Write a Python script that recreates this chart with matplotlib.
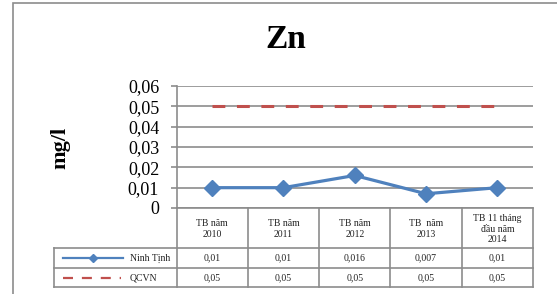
import matplotlib
matplotlib.use("Agg")
import matplotlib.pyplot as plt
from matplotlib.lines import Line2D
from matplotlib.patches import Rectangle

categories = ["TB năm\n2010", "TB năm\n2011", "TB năm\n2012", "TB  năm\n2013", "TB 11 tháng\nđầu năm\n2014"]
ninh_tinh = [0.01, 0.01, 0.016, 0.007, 0.01]
qcvn = [0.05, 0.05, 0.05, 0.05, 0.05]
ninh_tinh_labels = ["0,01", "0,01", "0,016", "0,007", "0,01"]
qcvn_labels = ["0,05", "0,05", "0,05", "0,05", "0,05"]
yticks = [0, 0.01, 0.02, 0.03, 0.04, 0.05, 0.06]
ytick_labels = ["0", "0,01", "0,02", "0,03", "0,04", "0,05", "0,06"]

plt.rcParams['font.family'] = ['Liberation Serif', 'DejaVu Serif']

W, H = 557, 294
fig = plt.figure(figsize=(W / 100, H / 100), dpi=100)

def fx(px):
    return px / W

def fy(py):
    return 1 - py / H

# outer chart border
fig.patches.append(Rectangle((fx(13.5), fy(400)), fx(700), fy(2.5) - fy(400),
                             transform=fig.transFigure, fill=False,
                             edgecolor="#8c8c8c", linewidth=1.2))

L, R, T, B = 176.5, 533, 86, 208
ax = fig.add_axes([fx(L), fy(B), fx(R - L), fy(T) - fy(B)])
n = len(categories)
x = list(range(n))
ax.set_xlim(-0.5, n - 0.5)
ax.set_ylim(0, 0.06)
ax.set_yticks(yticks)
ax.set_yticklabels(ytick_labels, fontsize=13)
ax.set_xticks([])
ax.grid(axis="y", color="#8c8c8c", linewidth=1.2)
ax.set_axisbelow(True)
for s in ["top", "right", "bottom"]:
    ax.spines[s].set_visible(False)
ax.spines["left"].set_color("#8c8c8c")
ax.spines["left"].set_linewidth(1.2)
ax.tick_params(axis="y", length=4.5, color="#8c8c8c", width=1.2, pad=8)

blue = "#4F81BD"
red = "#C0504D"
ax.plot(x, qcvn, color=red, linewidth=2.2, dashes=(4.2, 3.8), zorder=3)
ax.plot(x, ninh_tinh, color=blue, linewidth=2.3, marker="D", markersize=8.5,
        markeredgecolor=blue, zorder=4, clip_on=False)

fig.text(fx(286), fy(39), "Zn", fontsize=24, fontweight="bold", ha="center", va="center")
fig.text(fx(60), fy(148), "mg/l", fontsize=16, fontweight="bold", ha="center", va="center",
         rotation=90)

# data table
gc = "#8c8c8c"
lw = 1.2
TL = 54
r1, r2, r3 = 248, 268, 287
colw = (R - L) / n

def hline(px0, px1, py):
    fig.add_artist(Line2D([fx(px0), fx(px1)], [fy(py), fy(py)], transform=fig.transFigure,
                          color=gc, linewidth=lw))

def vline(px, py0, py1):
    fig.add_artist(Line2D([fx(px), fx(px)], [fy(py0), fy(py1)], transform=fig.transFigure,
                          color=gc, linewidth=lw))

hline(L, R, B)
hline(TL, R, r1)
hline(TL, R, r2)
hline(TL, R, r3)
vline(L, B, r3)
vline(TL, r1, r3)
for i in range(1, n + 1):
    vline(L + i * colw, B, r3)

for i, cat in enumerate(categories):
    cx = L + (i + 0.5) * colw
    fig.text(fx(cx), fy((B + r1) / 2 + 1), cat, fontsize=7, ha="center", va="center",
             linespacing=1.25, color="#222222")
    fig.text(fx(cx), fy((r1 + r2) / 2), ninh_tinh_labels[i], fontsize=7, ha="center",
             va="center", color="#222222")
    fig.text(fx(cx), fy((r2 + r3) / 2), qcvn_labels[i], fontsize=7, ha="center",
             va="center", color="#222222")

# legend keys in table
yk1 = (r1 + r2) / 2
fig.add_artist(Line2D([fx(63), fx(123)], [fy(yk1), fy(yk1)], transform=fig.transFigure,
                      color=blue, linewidth=1.6))
fig.add_artist(Line2D([fx(93)], [fy(yk1)], transform=fig.transFigure, color=blue,
                      marker="D", markersize=4.5, linestyle="none"))
yk2 = (r2 + r3) / 2
fig.add_artist(Line2D([fx(63), fx(121)], [fy(yk2), fy(yk2)], transform=fig.transFigure,
                      color=red, linewidth=1.6, dashes=(4.5, 4)))
fig.text(fx(130), fy(yk1), "Ninh Tịnh", fontsize=7, ha="left", va="center", color="#222222")
fig.text(fx(130), fy(yk2), "QCVN", fontsize=7, ha="left", va="center", color="#222222")

fig.savefig("out.png", dpi=100)
